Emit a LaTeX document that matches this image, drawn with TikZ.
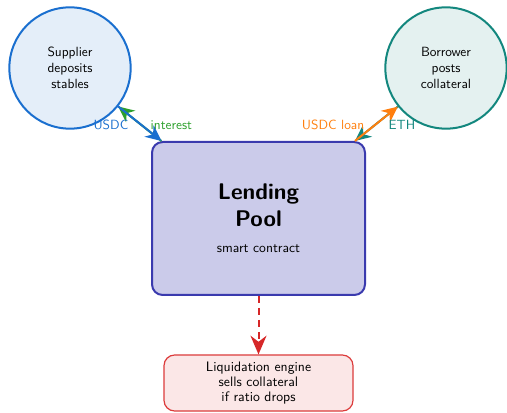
\documentclass[tikz,border=0pt]{standalone}
\usetikzlibrary{arrows.meta}
\definecolor{supB}{HTML}{1A6FCF}
\definecolor{supF}{HTML}{E4EEF9}
\definecolor{borB}{HTML}{13877E}
\definecolor{borF}{HTML}{E4F1F0}
\definecolor{poolB}{HTML}{3A3AAE}
\definecolor{poolF}{HTML}{CBCBEA}
\definecolor{liqB}{HTML}{DC3B3B}
\definecolor{liqF}{HTML}{FBE7E7}
\definecolor{grn}{HTML}{2CA02C}
\definecolor{org}{HTML}{FF7F0E}
\definecolor{arrR}{HTML}{D62728}
\tikzset{
  party/.style={circle, draw, line width=1.5pt, minimum size=91pt, inner sep=0pt, align=center, font=\sffamily\normalsize},
  flow/.style={line width=1.5pt, -{Stealth[length=12pt,width=11pt]}},
  lbl/.style={font=\sffamily\normalsize},
}
\begin{document}
\begin{tikzpicture}[x=0.75pt,y=-0.75pt]
\useasboundingbox (0,0) rectangle (507,413);
\node[party, draw=supB, fill=supF] (sup) at (70,68) {Supplier\\deposits\\stables};
\node[party, draw=borB, fill=borF] (bor) at (446,68) {Borrower\\posts\\collateral};
\node[draw=poolB, fill=poolF, line width=1.5pt, rounded corners=8pt, minimum width=159.75pt, minimum height=114.75pt, align=center, font=\sffamily\fontsize{17}{20}\selectfont\bfseries] (pool) at (258.5,218.5)
  {Lending\\ Pool\\ {\mdseries\fontsize{10.2}{12}\selectfont smart contract}};
\node[draw=liqB, fill=liqF, line width=0.9pt, rounded corners=8pt, minimum width=141.75pt, minimum height=42pt, align=center, font=\sffamily\fontsize{10.3}{11.3}\selectfont] (liq) at (258.5,383)
  {Liquidation engine\\sells collateral\\if ratio drops};
\draw[flow, draw=grn, color=grn] (pool) -- (sup);
\draw[flow, draw=supB, color=supB] (sup) -- (pool);
\draw[flow, draw=borB, color=borB] (bor) -- (pool);
\draw[flow, draw=org, color=org] (pool) -- (bor);
\node[lbl, text=supB, anchor=east] (l1) at (133,125) {USDC};
\node[lbl, text=grn, anchor=west] (l2) at (146,125) {interest};
\node[lbl, text=org, anchor=east] (l3) at (369,125) {USDC loan};
\node[lbl, text=borB, anchor=west] (l4) at (384,125) {ETH};
\draw[line width=1.5pt, draw=arrR, dash pattern=on 5pt off 4pt, -{Stealth[length=14pt,width=12pt]}, color=arrR] (pool) -- (liq);
\end{tikzpicture}
\end{document}
